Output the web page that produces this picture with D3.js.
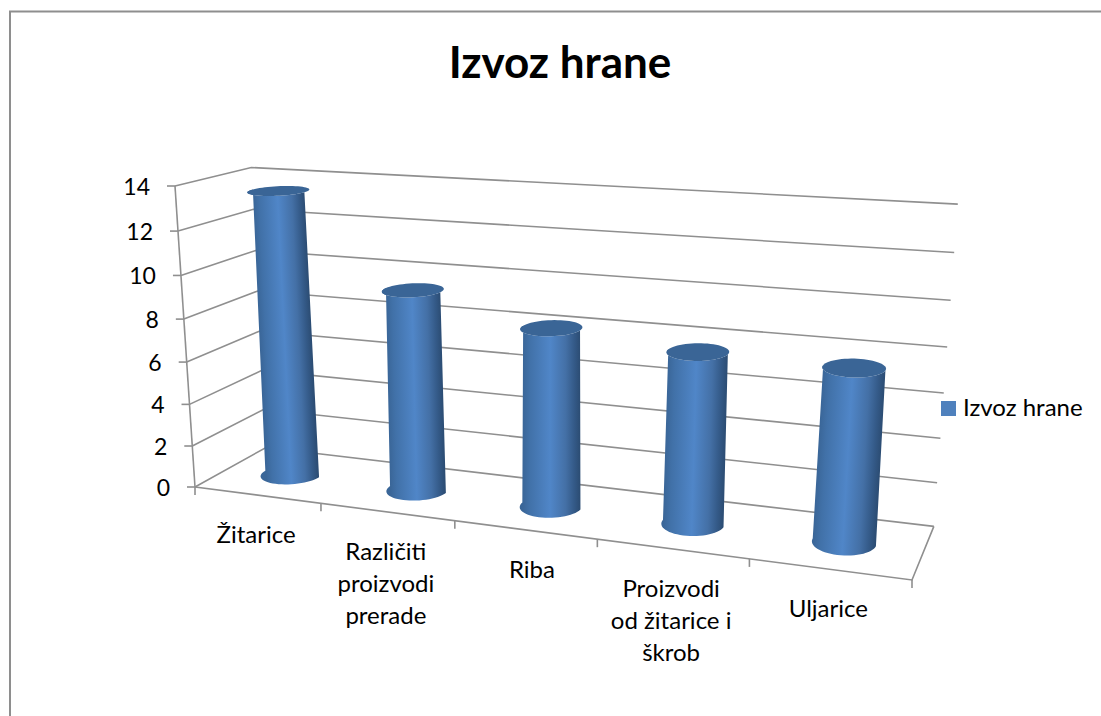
<!DOCTYPE html>
<meta charset="utf-8">
<style>
body { margin: 0; background: white; }
text { font-family: Lato, "Open Sans", sans-serif; fill: #000; }
</style>
<body>
<script src="https://d3js.org/d3.v7.min.js"></script>
<script>

const width = 1101
const height = 716

// Chart data
const chartTitle = 'Izvoz hrane'
const seriesName = 'Izvoz hrane'
const categories = ['Žitarice', 'Različiti proizvodi prerade', 'Riba', 'Proizvodi od žitarice i škrob', 'Uljarice']
const categoryLines = [['Žitarice'], ['Različiti', 'proizvodi', 'prerade'], ['Riba'], ['Proizvodi', 'od žitarice i', 'škrob'], ['Uljarice']]
const values = [13.5, 9.4, 8.2, 7.7, 7.6]

// Corners of the 3D box on screen and how much each axis shrinks going away
const origin = [195, 487]
const cornerU = [912, 580]
const cornerV = [175, 186]
const cornerD = [266, 447.5]
const persp = { u: -0.1475, v: -0.054, d: 0.0784 }

const vecU = cornerU.map((c, i) => c * (1 + persp.u) - origin[i])
const vecV = cornerV.map((c, i) => c * (1 + persp.v) - origin[i])
const vecD = cornerD.map((c, i) => c * (1 + persp.d) - origin[i])

// u = along the categories, v = up the value axis, d = into the picture (all 0..1)
function project(u, v, d) {
	const w = 1 + persp.u * u + persp.v * v + persp.d * d
	return [0, 1].map(i => (origin[i] + u * vecU[i] + v * vecV[i] + d * vecD[i]) / w)
}

const xBand = d3.scaleBand().domain(categories).range([0, 1])
const yValue = d3.scaleLinear().domain([0, 14]).range([0, 1])
const yTicks = yValue.ticks(7)

// Column radius gets a bit smaller in u toward the right
const radiusU = d3.scaleLinear().domain([0.1, 0.9]).range([0.044, 0.0405])
const radiusD = 0.24

const svg = d3.select('body')
	.append('svg')
	.attr('width', width)
	.attr('height', height)
	.style('display', 'block')

const line = d3.line()
const gridColor = '#8f8f8f'

// Outer frame, only top and left are visible
svg.append('path')
	.attr('d', line([[10, height], [10, 11.5], [width, 11.5]]))
	.attr('fill', 'none')
	.attr('stroke', '#8e8e8e')
	.attr('stroke-width', 2)

svg.append('text')
	.text(chartTitle)
	.attr('x', 560)
	.attr('y', 78)
	.attr('text-anchor', 'middle')
	.attr('font-size', 44)
	.attr('font-weight', 700)

const grid = svg.append('g')
	.attr('fill', 'none')
	.attr('stroke', gridColor)
	.attr('stroke-width', 1.6)

// Gridlines run along the side wall and then the back wall
grid.selectAll('.gridline')
	.data(yTicks)
	.enter()
	.append('path')
	.attr('class', 'gridline')
	.attr('d', t => line([project(0, yValue(t), 0), project(0, yValue(t), 1), project(1, yValue(t), 1)]))

// Value axis with its ticks
grid.append('path')
	.attr('d', line([project(0, 0, 0), project(0, 1, 0)]))

grid.selectAll('.ytick')
	.data(yTicks)
	.enter()
	.append('path')
	.attr('class', 'ytick')
	.attr('d', t => {
		const p = project(0, yValue(t), 0)
		return line([[p[0] - 8, p[1]], p])
	})

// Floor edges
grid.append('path')
	.attr('d', line([project(0, 0, 0), project(1, 0, 0), project(1, 0, 1)]))

const uEdges = categories.map(c => xBand(c)).concat(1)
grid.selectAll('.xtick')
	.data(uEdges)
	.enter()
	.append('path')
	.attr('class', 'xtick')
	.attr('d', u => {
		const p = project(u, 0, 0)
		return line([p, [p[0], p[1] + 8]])
	})

// Value labels
svg.selectAll('.ylabel')
	.data(yTicks)
	.enter()
	.append('text')
	.attr('class', 'ylabel')
	.text(t => t)
	.attr('x', t => project(0, yValue(t), 0)[0] - 25)
	.attr('y', t => project(0, yValue(t), 0)[1] + 9)
	.attr('text-anchor', 'end')
	.attr('font-size', 23)

// Category labels hang below the front edge
const catLabels = svg.selectAll('.xlabel')
	.data(categories)
	.enter()
	.append('text')
	.attr('class', 'xlabel')
	.attr('text-anchor', 'middle')
	.attr('font-size', 24)

catLabels.selectAll('tspan')
	.data((c, i) => categoryLines[i].map((l, j) => ({ l, j, c })))
	.enter()
	.append('tspan')
	.text(d => d.l)
	// Riba sits a little right of its band in the original
	.attr('x', d => project(xBand(d.c) + xBand.bandwidth() / 2, 0, 0)[0] + (d.c === 'Riba' ? 7 : -1))
	.attr('y', d => project(xBand(d.c) + xBand.bandwidth() / 2, 0, 0)[1] + 48 + d.j * 32)

// Columns
const defs = svg.append('defs')
const angles = d3.range(0, 361, 6).map(a => a * Math.PI / 180)
const frontAngles = d3.range(180, 361, 6).map(a => a * Math.PI / 180)

categories.forEach((c, i) => {
	const uc = xBand(c) + xBand.bandwidth() / 2
	const top = yValue(values[i])
	const r = radiusU(uc)
	// The columns hardly widen with height in the original, so take the taper out
	const rim = (v, a) => project(uc + r * (1 - 0.09 * v) * Math.cos(a), v, 0.5 + radiusD * Math.sin(a))

	// Shade across the column, perpendicular to its lean
	const b = project(uc, 0, 0.5)
	const t = project(uc, top, 0.5)
	const len = Math.hypot(t[0] - b[0], t[1] - b[1])
	const perp = [-(t[1] - b[1]) / len, (t[0] - b[0]) / len]
	const mid = [(t[0] + b[0]) / 2, (t[1] + b[1]) / 2]
	const half = Math.hypot(rim(top, 0)[0] - rim(top, Math.PI)[0], rim(top, 0)[1] - rim(top, Math.PI)[1]) / 2
	const sign = perp[0] < 0 ? -1 : 1

	const grad = defs.append('linearGradient')
		.attr('id', 'col' + i)
		.attr('gradientUnits', 'userSpaceOnUse')
		.attr('x1', mid[0] - sign * perp[0] * half)
		.attr('y1', mid[1] - sign * perp[1] * half)
		.attr('x2', mid[0] + sign * perp[0] * half)
		.attr('y2', mid[1] + sign * perp[1] * half)
	grad.append('stop').attr('offset', 0).attr('stop-color', '#3a6698')
	grad.append('stop').attr('offset', 0.12).attr('stop-color', '#4171a8')
	grad.append('stop').attr('offset', 0.48).attr('stop-color', '#5086c8')
	grad.append('stop').attr('offset', 0.75).attr('stop-color', '#4470a6')
	grad.append('stop').attr('offset', 0.9).attr('stop-color', '#345a88')
	grad.append('stop').attr('offset', 1).attr('stop-color', '#2c4d74')

	const bodyPts = frontAngles.map(a => rim(0, a))
		.concat(frontAngles.slice().reverse().map(a => rim(top, a)))

	svg.append('path')
		.attr('d', line(bodyPts) + 'Z')
		.attr('fill', `url(#col${i})`)

	svg.append('path')
		.attr('d', line(angles.map(a => rim(top, a))) + 'Z')
		.attr('fill', '#3a6596')
})

// Legend
svg.append('rect')
	.attr('x', 941)
	.attr('y', 401)
	.attr('width', 15)
	.attr('height', 15)
	.attr('fill', '#4f81bd')

svg.append('text')
	.text(seriesName)
	.attr('x', 963)
	.attr('y', 416)
	.attr('font-size', 24)

</script>
</body>
</html>
